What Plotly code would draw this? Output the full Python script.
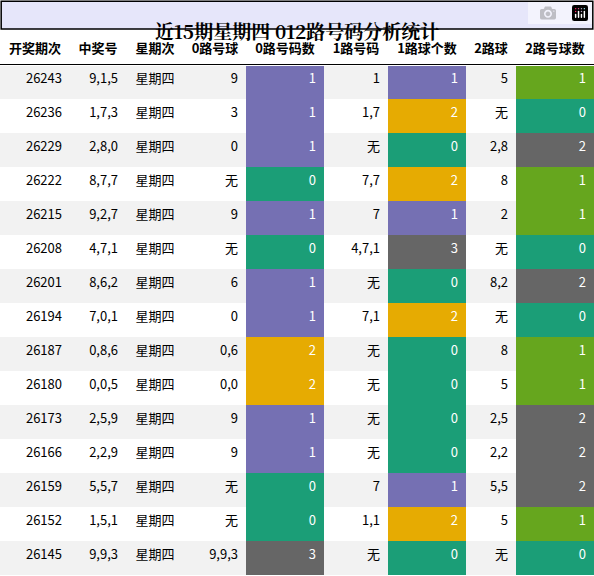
import plotly.graph_objects as go

headers = ["开奖期次","中奖号","星期次","0路号球","0路号码数","1路号码","1路球个数","2路球","2路号球数"]
issue = ["26243","26236","26229","26222","26215","26208","26201","26194","26187","26180","26173","26166","26159","26152","26145"]
nums = ["9,1,5","1,7,3","2,8,0","8,7,7","9,2,7","4,7,1","8,6,2","7,0,1","0,8,6","0,0,5","2,5,9","2,2,9","5,5,7","1,5,1","9,9,3"]
week = ["星期四"]*15
r0 = ["9","3","0","无","9","无","6","0","0,6","0,0","9","9","无","无","9,9,3"]
c0 = [1,1,1,0,1,0,1,1,2,2,1,1,0,0,3]
r1 = ["1","1,7","无","7,7","7","4,7,1","无","7,1","无","无","无","无","7","1,1","无"]
c1 = [1,2,0,2,1,3,0,2,0,0,0,0,1,2,0]
r2 = ["5","无","2,8","8","2","无","8,2","无","8","5","2,5","2,2","5,5","5","无"]
c2 = [1,0,2,1,1,0,2,0,1,1,2,2,2,1,0]

colA = {0:"#1b9e77",1:"#7570b3",2:"#e6ab02",3:"#666666"}
colB = {0:"#1b9e77",1:"#66a61e",2:"#666666"}
stripe = ["#f2f2f2" if i%2==0 else "#ffffff" for i in range(15)]

values = [issue, nums, week, r0, c0, r1, c1, r2, c2]
fills = [stripe, stripe, stripe, stripe, [colA[v] for v in c0], stripe,
         [colA[v] for v in c1], stripe, [colB[v] for v in c2]]
fcol = [["black"]*15]*4 + [["white"]*15, ["black"]*15, ["white"]*15, ["black"]*15, ["white"]*15]
align = ["right","right","center","right","right","right","right","right","right"]
widths = [70,56,58,62,78,64,78,50,78]

fig = go.Figure(go.Table(
    columnwidth=widths,
    domain=dict(x=[0,1], y=[0, 546/576]),
    header=dict(values=[f"<b>{h}</b>" for h in headers], height=35, fill_color="white",
                line_color="white", align="center",
                font=dict(family="Noto Sans CJK SC", size=13, color="black")),
    cells=dict(values=values, height=34, fill_color=fills, line_color="white", line_width=0,
               align=align, font=dict(family="Noto Sans CJK SC", size=13, color=fcol)),
))
fig.update_layout(
    width=594, height=576, margin=dict(l=0,r=0,t=0,b=0), paper_bgcolor="white",
    shapes=[
        dict(type="rect", xref="paper", yref="paper", x0=0.002, x1=0.998, y0=547/576, y1=0.998,
             fillcolor="#e6e6fa", line=dict(color="black", width=1.5), layer="below"),
        dict(type="line", xref="paper", yref="paper", x0=0, x1=1, y0=511.5/576, y1=511.5/576,
             line=dict(color="black", width=1)),
    ],
    annotations=[dict(text="<b>近15期星期四 012路号码分析统计</b>", xref="paper", yref="paper",
                      x=0.5, y=561/576, showarrow=False,
                      font=dict(family="Noto Serif CJK SC, Noto Sans CJK SC", size=19, color="black"))],
)
fig.write_html("out.html", post_script="document.body.style.margin='0';document.body.style.overflow='hidden';")
